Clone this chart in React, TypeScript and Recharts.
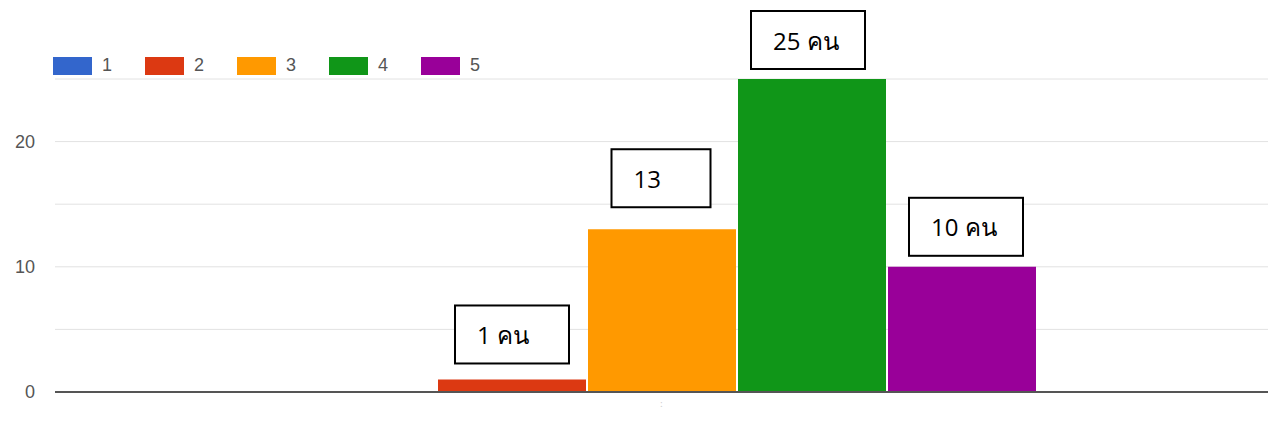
import React from 'react';
import { BarChart, Bar, XAxis, YAxis, CartesianGrid, Legend } from 'recharts';

// one category, five answer options (rating 1-5)
const categories = [':'];
const seriesNames = ['1', '2', '3', '4', '5'];
const seriesValues = [[0], [1], [13], [25], [10]];
const seriesColors = ['#3366cc', '#dc3912', '#ff9900', '#109618', '#990099'];
const boxLabels = ['', '1 คน', '13', '25 คน', '10 คน'];
const yTicks = [0, 5, 10, 15, 20, 25];

// where the hand-drawn note boxes sit relative to each bar
const boxLayout = [
  { dx: 0, gap: 0, w: 0 },
  { dx: 0, gap: 16, w: 114 },
  { dx: -1, gap: 22, w: 99 },
  { dx: -4, gap: 10, w: 114 },
  { dx: 4, gap: 11, w: 114 },
];
const BOX_H = 58;

const data = categories.map((name, i) => {
  const row: Record<string, string | number> = { name };
  seriesNames.forEach((s, j) => {
    row['s' + s] = seriesValues[j][i];
  });
  return row;
});

const makeBoxLabel = (idx: number) => (props: any) => {
  const { x, y, width } = props;
  const text = boxLabels[idx];
  if (!text) return null;
  const lay = boxLayout[idx];
  const cx = Number(x) + Number(width) / 2 + lay.dx;
  const bx = cx - lay.w / 2;
  const by = Number(y) - lay.gap - BOX_H;
  return (
    <g>
      <rect x={bx} y={by} width={lay.w} height={BOX_H} fill="#fff" stroke="#000" strokeWidth={2} />
      <text
        x={bx + 22}
        y={by + BOX_H / 2}
        dominantBaseline="central"
        fontSize={24}
        fontFamily="'Open Sans', 'Noto Sans', sans-serif"
        fill="#000"
      >
        {text}
      </text>
    </g>
  );
};

const renderLegend = () => (
  <div style={{ display: 'flex', alignItems: 'center', fontFamily: "'Liberation Sans', Arial, sans-serif" }}>
    {seriesNames.map((s, i) => (
      <div key={s} style={{ display: 'flex', alignItems: 'center', marginRight: 33 }}>
        <span style={{ display: 'inline-block', width: 39, height: 18, background: seriesColors[i] }} />
        <span style={{ marginLeft: 10, fontSize: 18, color: '#555' }}>{s}</span>
      </div>
    ))}
  </div>
);

export default function App() {
  return (
    <div style={{ position: 'absolute', left: 0, top: 0, background: '#fff' }}>
      <BarChart
        width={1279}
        height={437}
        data={data}
        margin={{ top: 79, right: 11, left: 0, bottom: 15 }}
        barCategoryGap={233}
        barGap={2}
      >
        <CartesianGrid vertical={false} stroke="#e2e2e2" />
        <XAxis
          dataKey="name"
          height={30}
          axisLine={{ stroke: '#555', strokeWidth: 2 }}
          tickLine={false}
          tick={{ fill: '#ccc', fontSize: 10 }}
        />
        <YAxis
          width={55}
          domain={[0, 25]}
          ticks={yTicks}
          axisLine={false}
          tickLine={false}
          tickMargin={14}
          tickFormatter={(v: number) => (v % 10 === 0 ? String(v) : '')}
          tick={{ fill: '#555', fontSize: 18, fontFamily: "'Liberation Sans', Arial, sans-serif" }}
        />
        <Legend
          layout="horizontal"
          verticalAlign="middle"
          align="center"
          content={renderLegend}
          wrapperStyle={{ top: 55, left: 53, width: 'auto', height: 'auto' }}
        />
        {seriesNames.map((s, i) => (
          <Bar
            key={s}
            dataKey={'s' + s}
            name={s}
            fill={seriesColors[i]}
            isAnimationActive={false}
            label={makeBoxLabel(i)}
          />
        ))}
      </BarChart>
    </div>
  );
}
